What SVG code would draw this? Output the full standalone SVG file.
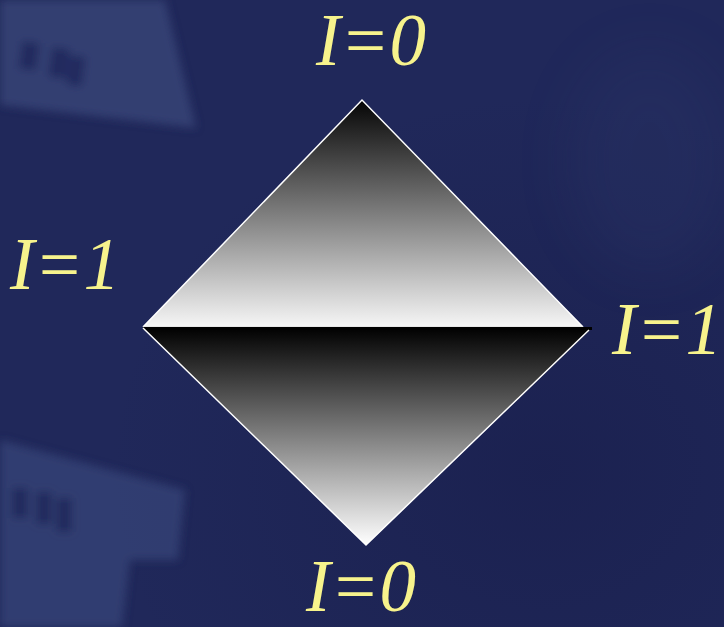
<svg xmlns="http://www.w3.org/2000/svg" width="724" height="627" viewBox="0 0 724 627">
<defs>
<linearGradient id="gTop" x1="0" y1="100" x2="0" y2="327" gradientUnits="userSpaceOnUse">
<stop offset="0" stop-color="#050505"/>
<stop offset="1" stop-color="#f6f6f6"/>
</linearGradient>
<linearGradient id="gBot" x1="0" y1="327" x2="0" y2="545" gradientUnits="userSpaceOnUse">
<stop offset="0" stop-color="#000000"/>
<stop offset="1" stop-color="#ffffff"/>
</linearGradient>
<radialGradient id="bgShade" cx="0.75" cy="0.75" r="0.6">
<stop offset="0" stop-color="#181d4a" stop-opacity="0.6"/>
<stop offset="1" stop-color="#181d4a" stop-opacity="0"/>
</radialGradient>
<filter id="blur" x="-20%" y="-20%" width="140%" height="140%"><feGaussianBlur stdDeviation="4"/></filter>
<filter id="blur2" x="-50%" y="-50%" width="200%" height="200%"><feGaussianBlur stdDeviation="25"/></filter>
</defs>
<style>
.lbl{font-family:"Liberation Serif","Times New Roman",serif;font-style:italic;font-size:73px;fill:#f7f38c}
.edge{stroke:#ffffff;stroke-width:1.5;fill:none}
</style>
<g id="background">
<rect width="724" height="627" fill="#20285a"/>
<rect width="724" height="627" fill="url(#bgShade)"/>
<ellipse cx="650" cy="160" rx="80" ry="110" fill="#2a3466" opacity="0.3" filter="url(#blur2)"/>
<g filter="url(#blur)">
<polygon points="0,0 165,0 196,128 0,105" fill="#39467a" opacity="0.75"/>
<rect x="20" y="42" width="18" height="28" fill="#20295a" opacity="0.8" transform="rotate(8 30 57)"/>
<rect x="50" y="48" width="18" height="30" fill="#20295a" opacity="0.8" transform="rotate(8 60 63)"/>
<rect x="68" y="56" width="16" height="30" fill="#20295a" opacity="0.8" transform="rotate(8 77 71)"/>
<polygon points="0,440 185,490 178,560 130,560 122,627 0,627" fill="#39467a" opacity="0.7"/>
<rect x="12" y="488" width="16" height="30" fill="#20295a" opacity="0.8"/>
<rect x="36" y="492" width="16" height="32" fill="#20295a" opacity="0.8"/>
<rect x="56" y="498" width="16" height="34" fill="#20295a" opacity="0.8"/>
</g>
</g>
<g id="upper-triangle">
<polygon points="362,100 143,327 583,327" fill="url(#gTop)"/>
<polyline class="edge" points="143,327 362,100 583,327"/>
<line x1="143" y1="327" x2="583" y2="327" stroke="#d8d8d8" stroke-width="1"/>
</g>
<g id="lower-triangle">
<polygon points="143,328 592,328 366,545" fill="url(#gBot)"/>
<rect x="143" y="327" width="449" height="3" fill="#000"/>
<polyline class="edge" points="143,328 366,545 589,330"/>
</g>
<g id="labels">
<text class="lbl" x="316" y="65">I=0</text>
<text class="lbl" x="10" y="289">I=1</text>
<text class="lbl" x="612" y="354">I=1</text>
<text class="lbl" x="306" y="611">I=0</text>
</g>
</svg>
